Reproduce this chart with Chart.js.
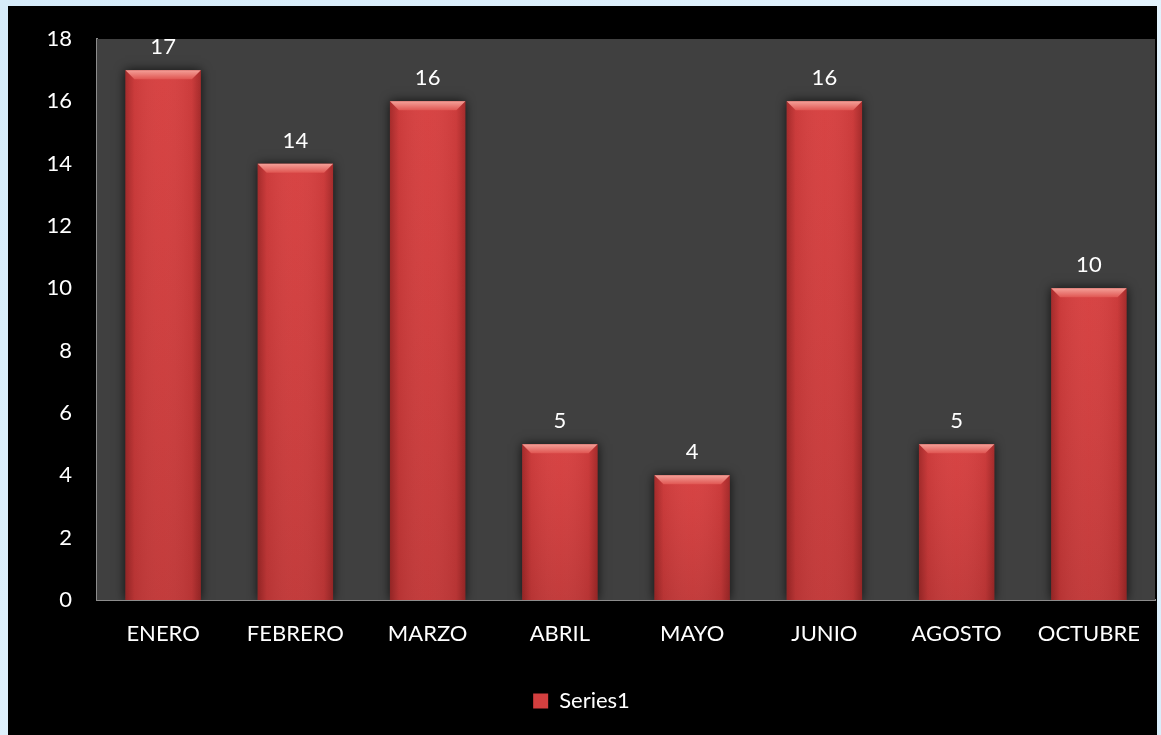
<!DOCTYPE html>
<html lang="es">
<head>
<meta charset="utf-8">
<title>Series1</title>
<script src="https://cdn.jsdelivr.net/npm/chart.js@4/dist/chart.umd.min.js"></script>
<style>
    html, body { margin: 0; padding: 0; }
    body {
        width: 1161px;
        height: 735px;
        background: linear-gradient(135deg, #d6ecfa 0%, #e3f3fd 60%, #d9eefb 100%);
        position: relative;
        overflow: hidden;
    }
    #chartBox {
        position: absolute;
        left: 8px;
        top: 6px;
        width: 1149px;
        height: 729px;
        background: #000;
    }
</style>
</head>
<body>
<div id="chartBox"><canvas id="monthChart"></canvas></div>
<script>
// ============================================================
// DATOS
// ============================================================
const months = ['ENERO', 'FEBRERO', 'MARZO', 'ABRIL', 'MAYO', 'JUNIO', 'AGOSTO', 'OCTUBRE'];
const series1 = [17, 14, 16, 5, 4, 16, 5, 10];
const yTicks = [0, 2, 4, 6, 8, 10, 12, 14, 16, 18];

const FONT = 'Lato, sans-serif';
const FONT_SIZE = 22;
const BAR_RED = '#d33f3f';

// ============================================================
// Fondo del área de trazado
// ============================================================
const plotBackground = {
    id: 'plotBackground',
    beforeDatasetsDraw(chart) {
        const { ctx, chartArea: a } = chart;
        ctx.save();
        ctx.fillStyle = '#404040';
        ctx.fillRect(a.left, a.top, a.right - a.left, a.bottom - a.top);
        ctx.restore();
    }
};

// ============================================================
// Sombreado de barras (bisel) + etiquetas de valor
// ============================================================
const barShading = {
    id: 'barShading',
    afterDatasetsDraw(chart) {
        const ctx = chart.ctx;
        const meta = chart.getDatasetMeta(0);
        ctx.save();
        meta.data.forEach((bar, i) => {
            const left = bar.x - bar.width / 2;
            const right = bar.x + bar.width / 2;
            const top = bar.y;
            const bottom = bar.base;
            const w = bar.width;

            // lados más oscuros
            const g = ctx.createLinearGradient(left, 0, right, 0);
            g.addColorStop(0, 'rgba(60,0,0,0.35)');
            g.addColorStop(0.12, 'rgba(60,0,0,0.08)');
            g.addColorStop(0.5, 'rgba(255,255,255,0.02)');
            g.addColorStop(0.88, 'rgba(60,0,0,0.08)');
            g.addColorStop(1, 'rgba(60,0,0,0.35)');
            ctx.fillStyle = g;
            ctx.fillRect(left, top, w, bottom - top);

            // un poco más oscuro hacia la base
            const gv = ctx.createLinearGradient(0, top, 0, bottom);
            gv.addColorStop(0, 'rgba(255,80,80,0.08)');
            gv.addColorStop(1, 'rgba(40,0,0,0.10)');
            ctx.fillStyle = gv;
            ctx.fillRect(left, top, w, bottom - top);

            // bisel superior
            const bev = 9;
            const gt = ctx.createLinearGradient(0, top, 0, top + bev);
            gt.addColorStop(0, '#f4a098');
            gt.addColorStop(1, '#e05652');
            ctx.fillStyle = gt;
            ctx.beginPath();
            ctx.moveTo(left, top);
            ctx.lineTo(right, top);
            ctx.lineTo(right - bev, top + bev);
            ctx.lineTo(left + bev, top + bev);
            ctx.closePath();
            ctx.fill();

            // valor
            ctx.fillStyle = '#ffffff';
            ctx.font = FONT_SIZE + 'px ' + FONT;
            ctx.textAlign = 'center';
            ctx.textBaseline = 'bottom';
            ctx.fillText(String(series1[i]), bar.x, top - 12);
        });
        ctx.restore();
    }
};

// sombra alrededor de las barras
const barGlow = {
    id: 'barGlow',
    beforeDatasetDraw(chart) {
        const ctx = chart.ctx;
        ctx.save();
        ctx.shadowColor = 'rgba(0,0,0,0.75)';
        ctx.shadowBlur = 10;
    },
    afterDatasetDraw(chart) {
        chart.ctx.restore();
    }
};

// ============================================================
// Gráfico
// ============================================================
function initChart() {
    const ctx = document.getElementById('monthChart').getContext('2d');

    new Chart(ctx, {
        type: 'bar',
        data: {
            labels: months,
            datasets: [{
                label: 'Series1',
                data: series1,
                backgroundColor: BAR_RED,
                borderWidth: 0,
                barPercentage: 0.57,
                categoryPercentage: 1
            }]
        },
        options: {
            responsive: true,
            maintainAspectRatio: false,
            animation: false,
            layout: {
                padding: { top: 33, right: 2, left: 0, bottom: 13 }
            },
            plugins: {
                tooltip: { enabled: false },
                legend: {
                    position: 'bottom',
                    labels: {
                        color: '#ffffff',
                        font: { size: FONT_SIZE, family: FONT },
                        boxWidth: 15,
                        boxHeight: 15,
                        padding: 20
                    }
                }
            },
            scales: {
                y: {
                    min: 0,
                    max: 18,
                    afterFit: s => {
                        s.width = 89;
                        s.paddingTop = 0;
                        s.paddingBottom = 0;
                    },
                    afterBuildTicks: s => { s.ticks = yTicks.map(v => ({ value: v })); },
                    ticks: {
                        color: '#ffffff',
                        font: { size: FONT_SIZE, family: FONT },
                        padding: 25
                    },
                    grid: { display: false, drawTicks: false },
                    border: { color: '#8c8c8c', width: 2 }
                },
                x: {
                    afterFit: s => {
                        s.height = 70;
                        s.paddingLeft = 0;
                        s.paddingRight = 0;
                    },
                    ticks: {
                        color: '#ffffff',
                        font: { size: FONT_SIZE, family: FONT },
                        padding: 21,
                        maxRotation: 0
                    },
                    grid: { display: false, drawTicks: false },
                    border: { color: '#8c8c8c', width: 2 }
                }
            }
        },
        plugins: [plotBackground, barGlow, barShading]
    });
}

document.addEventListener('DOMContentLoaded', initChart);
</script>
</body>
</html>
